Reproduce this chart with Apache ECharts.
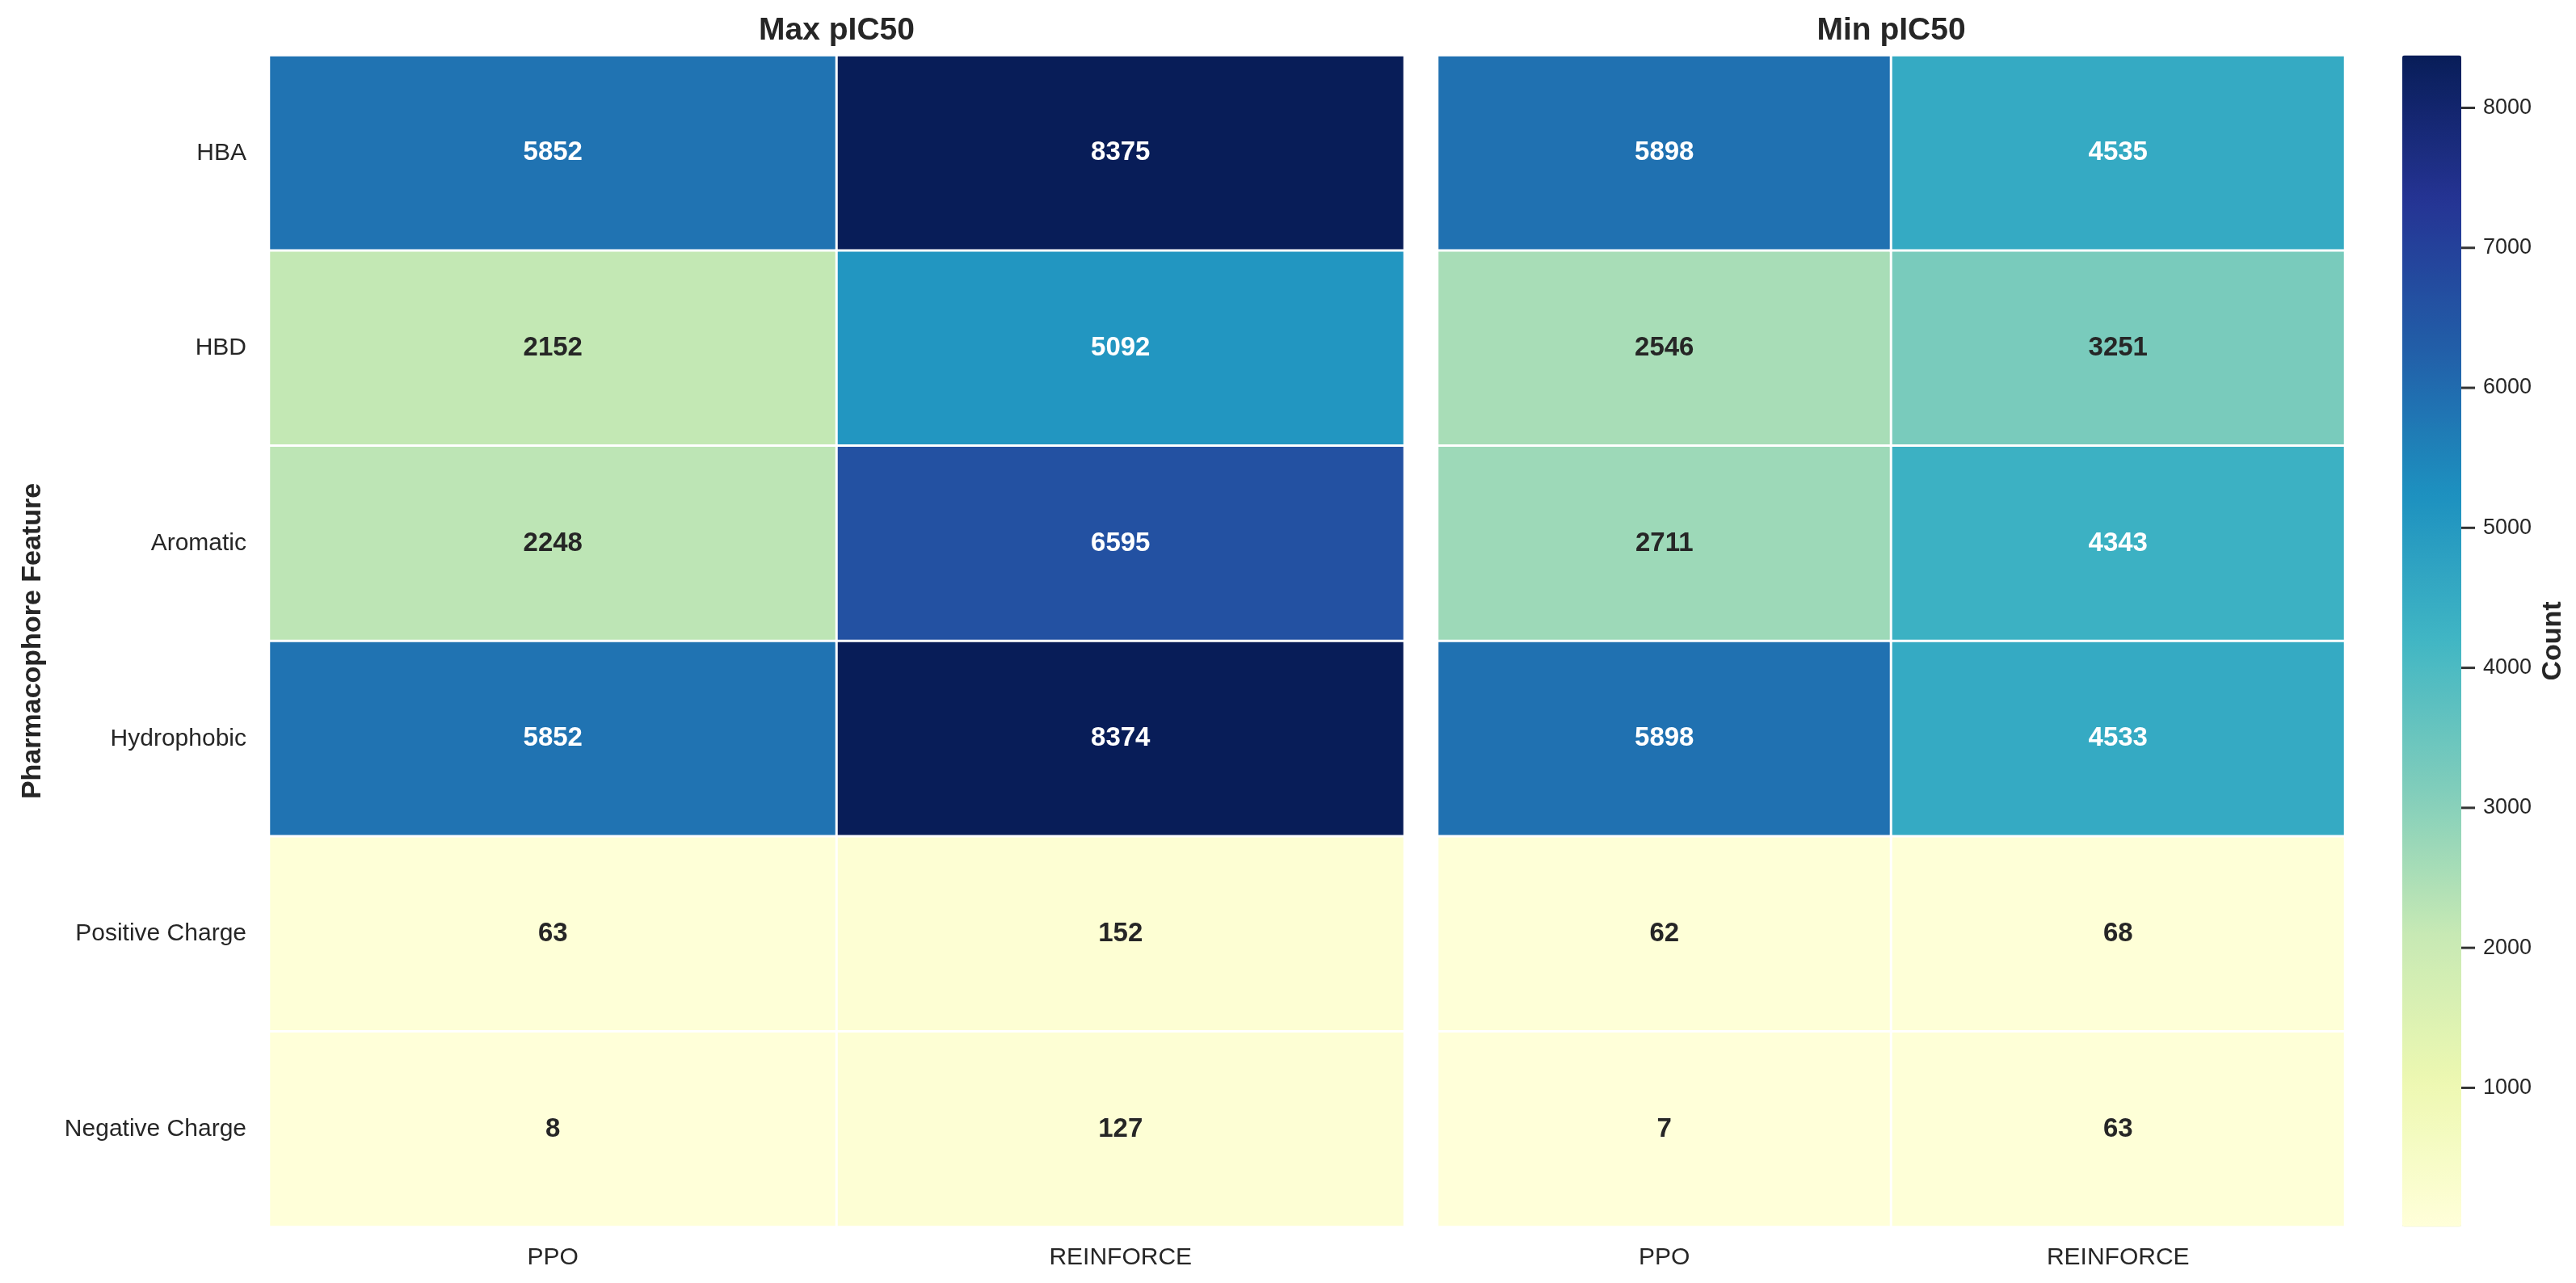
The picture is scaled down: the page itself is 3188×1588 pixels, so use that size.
<!DOCTYPE html>
<html>
<head>
<meta charset="utf-8">
<script src="https://cdn.jsdelivr.net/npm/echarts@6/dist/echarts.min.js"></script>
<style>
html,body{margin:0;padding:0;background:#fff;}
#chart{width:3188px;height:1588px;}
</style>
</head>
<body>
<div id="chart"></div>
<script>
// ---- data ----
var features = ['HBA', 'HBD', 'Aromatic', 'Hydrophobic', 'Positive Charge', 'Negative Charge'];
var methods = ['PPO', 'REINFORCE'];
var panelTitles = ['Max pIC50', 'Min pIC50'];
var maxPPO = [5852, 2152, 2248, 5852, 63, 8];
var maxREINFORCE = [8375, 5092, 6595, 8374, 152, 127];
var minPPO = [5898, 2546, 2711, 5898, 62, 7];
var minREINFORCE = [4535, 3251, 4343, 4533, 68, 63];
var colorbarTicks = [1000, 2000, 3000, 4000, 5000, 6000, 7000, 8000];
var yLabel = 'Pharmacophore Feature';
var cbLabel = 'Count';

// ---- colormap (YlGnBu) ----
var YLGNBU = ['#ffffd9', '#edf8b1', '#c7e9b4', '#7fcdbb', '#41b6c4', '#1d91c0', '#225ea8', '#253494', '#081d58'];

var allVals = [].concat(maxPPO, maxREINFORCE, minPPO, minREINFORCE);
var vmin = Math.min.apply(null, allVals);
var vmax = Math.max.apply(null, allVals);

function hexToRgb(h) {
  return [parseInt(h.substr(1, 2), 16), parseInt(h.substr(3, 2), 16), parseInt(h.substr(5, 2), 16)];
}
function cmap(v) {
  var t = (v - vmin) / (vmax - vmin);
  t = Math.max(0, Math.min(1, t)) * (YLGNBU.length - 1);
  var i = Math.min(Math.floor(t), YLGNBU.length - 2);
  var f = t - i;
  var a = hexToRgb(YLGNBU[i]), b = hexToRgb(YLGNBU[i + 1]);
  return [0, 1, 2].map(function (k) { return a[k] + (b[k] - a[k]) * f; });
}
function textColor(v) {
  var rgb = cmap(v).map(function (c) {
    c = c / 255;
    return c <= 0.03928 ? c / 12.92 : Math.pow((c + 0.055) / 1.055, 2.4);
  });
  var lum = 0.2126 * rgb[0] + 0.7152 * rgb[1] + 0.0722 * rgb[2];
  return lum > 0.408 ? '#262626' : '#ffffff';
}
function buildData(cols) {
  var out = [];
  cols.forEach(function (arr, xi) {
    arr.forEach(function (v, yi) {
      out.push({ value: [xi, yi, v], label: { color: textColor(v) } });
    });
  });
  return out;
}

var FONT = "'Liberation Sans', Arial, Helvetica, sans-serif";
var TXT = '#262626';

// ---- layout (pixels) ----
var TOP = 68.5, H = 1450;
var grids = [
  { left: 333, top: TOP, width: 1405, height: H },
  { left: 1779, top: TOP, width: 1123, height: H },
  { left: 2973, top: TOP, width: 73, height: H }
];

function catX(idx) {
  return {
    type: 'category', gridIndex: idx, data: methods, position: 'bottom',
    axisLine: { show: false }, axisTick: { show: false }, splitLine: { show: false },
    axisLabel: { fontSize: 30, color: TXT, fontFamily: FONT, margin: 23 }
  };
}
function catY(idx, showLabels) {
  return {
    type: 'category', gridIndex: idx, data: features, inverse: true,
    axisLine: { show: false }, axisTick: { show: false }, splitLine: { show: false },
    axisLabel: { show: showLabels, fontSize: 30, color: TXT, fontFamily: FONT, margin: 28 }
  };
}
function heatSeries(idx, cols) {
  return {
    type: 'heatmap', xAxisIndex: idx, yAxisIndex: idx,
    data: buildData(cols),
    label: { show: true, fontSize: 33, fontWeight: 'bold', fontFamily: FONT },
    itemStyle: { borderColor: '#ffffff', borderWidth: 3 },
    emphasis: { disabled: true },
    silent: true
  };
}

var option = {
  backgroundColor: '#ffffff',
  animation: false,
  grid: grids,
  xAxis: [
    catX(0), catX(1),
    { type: 'value', gridIndex: 2, show: false, min: 0, max: 1 }
  ],
  yAxis: [
    catY(0, true), catY(1, false),
    {
      type: 'value', gridIndex: 2, position: 'right', min: vmin, max: vmax,
      axisLine: { show: false }, splitLine: { show: false },
      axisTick: { show: false },
      axisLabel: {
        show: true, customValues: colorbarTicks, margin: 27, fontSize: 27, color: TXT, fontFamily: FONT,
        formatter: function (v) { return String(v); }
      }
    }
  ],
  visualMap: [{
    type: 'continuous', min: vmin, max: vmax, seriesIndex: [0, 1],
    calculable: false, show: true, orient: 'vertical',
    left: 2973, top: TOP, itemWidth: 73, itemHeight: H, padding: 0,
    inRange: { color: YLGNBU }
  }],
  series: [
    heatSeries(0, [maxPPO, maxREINFORCE]),
    heatSeries(1, [minPPO, minREINFORCE]),
    {
      // colorbar tick marks, placed through the colorbar's own value axis
      type: 'scatter', xAxisIndex: 2, yAxisIndex: 2,
      data: colorbarTicks.map(function (t) { return [1, t]; }),
      symbol: 'rect', symbolSize: [17, 3], symbolOffset: [8.5, 0],
      itemStyle: { color: '#333333', opacity: 1 },
      clip: false, silent: true, z: 10
    }
  ],
  graphic: [
    { type: 'text', x: 333 + 1405 / 2, y: 38, style: { text: panelTitles[0], align: 'center', verticalAlign: 'middle', font: 'bold 39px ' + FONT, fill: TXT } },
    { type: 'text', x: 1779 + 1123 / 2, y: 38, style: { text: panelTitles[1], align: 'center', verticalAlign: 'middle', font: 'bold 39px ' + FONT, fill: TXT } },
    { type: 'text', x: 41, y: TOP + H / 2, rotation: Math.PI / 2, style: { text: yLabel, align: 'center', verticalAlign: 'middle', font: 'bold 34px ' + FONT, fill: TXT } },
    { type: 'text', x: 3160, y: TOP + H / 2, rotation: Math.PI / 2, style: { text: cbLabel, align: 'center', verticalAlign: 'middle', font: 'bold 34px ' + FONT, fill: TXT } }
  ]
};

var chart = echarts.init(document.getElementById('chart'), null, { renderer: 'canvas', width: 3188, height: 1588 });
chart.setOption(option);
</script>
</body>
</html>
